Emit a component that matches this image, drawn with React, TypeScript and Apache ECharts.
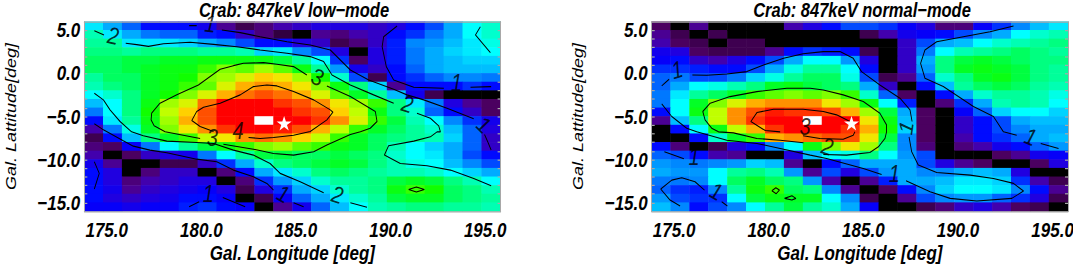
import React, { useEffect, useRef } from "react";
import * as echarts from "echarts";

const lonCats = Array.from({ length: 22 }, (_, i) => String(174.5 + i));
const latCats = Array.from({ length: 22 }, (_, i) => String(-15.5 + i));
const lonTicks = [175, 180, 185, 190, 195];
const latTicks = [-15, -10, -5, 0, 5];
const latMinor = [-15, -14, -13, -12, -11, -10, -9, -8, -7, -6, -5, -4, -3, -2, -1, 0, 1, 2, 3, 4, 5];

const titles = ["Crab: 847keV low\u2212mode", "Crab: 847keV normal\u2212mode"];
const xName = "Gal. Longitude [deg]";
const yName = "Gal. Lattitude[deg]";

// scale code per cell, top row first; 105 = the white peak cell
const lowMode = [
  [48,42,34,26,26,26,22,14,8,12,16,18,20,20,20,18,20,26,32,42,50,54],
  [56,48,42,36,34,34,28,26,18,12,6,0,14,12,16,18,26,30,36,42,50,54],
  [58,58,48,48,48,46,42,38,32,26,26,20,18,8,12,18,28,38,40,44,48,52],
  [60,60,58,60,60,60,58,58,56,46,48,38,32,20,0,20,28,36,42,46,48,50],
  [62,62,64,64,66,66,68,68,68,68,64,58,50,30,10,20,28,36,42,44,46,46],
  [62,62,64,66,68,68,72,76,74,78,74,68,58,40,22,18,26,34,42,44,44,44],
  [58,62,62,66,68,70,76,78,82,86,84,78,70,54,32,8,26,30,34,38,38,36],
  [56,60,62,66,68,72,74,82,88,90,88,84,76,68,60,46,14,26,26,26,30,26],
  [50,54,60,66,70,76,82,88,92,94,92,88,82,74,66,58,44,22,8,0,0,0],
  [44,50,60,68,78,82,92,100,100,100,96,94,90,84,78,72,60,48,36,20,14,10],
  [36,50,60,70,80,86,94,100,100,100,100,96,94,86,80,68,60,54,34,26,18,10],
  [26,48,58,68,78,88,94,100,100,105,100,100,96,90,82,72,64,56,50,38,30,22],
  [16,36,52,66,76,84,90,96,100,100,98,94,88,80,72,66,62,58,54,44,34,20],
  [8,26,44,60,66,72,80,84,90,92,90,86,80,72,66,62,60,58,56,46,34,18],
  [12,10,24,36,50,58,64,68,72,76,78,74,72,68,66,62,56,50,46,42,34,18],
  [16,0,10,18,20,22,36,50,58,64,64,62,62,64,62,60,54,50,48,42,32,26],
  [22,14,0,0,8,8,18,30,42,54,60,62,64,66,64,60,56,52,50,44,38,32],
  [26,20,0,12,18,18,0,12,26,42,48,54,60,62,60,58,56,56,54,50,46,42],
  [26,20,12,16,18,20,20,0,12,30,40,46,54,58,58,60,64,66,64,60,56,50],
  [26,22,14,18,20,22,24,20,8,20,30,42,46,54,58,60,68,72,70,62,60,56],
  [26,20,18,20,22,26,26,24,0,8,24,34,42,48,54,58,64,66,66,62,60,58],
  [24,24,22,24,24,28,30,26,24,0,14,22,34,44,50,56,58,60,60,58,58,56],
];

const normalMode = [
  [10,0,14,0,0,0,0,16,20,26,32,32,30,24,20,12,12,24,30,38,44,48],
  [14,8,0,8,0,0,0,0,0,0,0,8,16,22,24,26,32,38,42,50,54,56],
  [16,10,8,0,8,8,0,0,0,0,0,0,0,18,32,42,44,50,54,56,58,60],
  [22,20,10,8,8,8,14,26,30,28,26,8,0,18,36,50,56,58,60,62,60,58],
  [24,26,18,16,20,26,32,42,50,50,40,20,0,18,42,60,64,66,64,62,60,60],
  [30,30,28,26,26,32,42,52,58,58,50,26,0,18,40,60,66,68,66,64,60,58],
  [34,36,32,32,36,46,52,58,62,62,52,32,8,14,34,54,60,66,68,64,60,58],
  [34,42,50,52,56,60,66,68,64,62,60,42,18,0,26,44,58,62,64,62,58,56],
  [36,48,58,62,66,72,74,76,74,76,72,54,34,10,0,26,42,54,58,58,56,52],
  [36,50,66,76,82,88,90,90,90,84,78,68,50,28,0,12,30,42,56,58,56,50],
  [26,50,68,80,90,94,98,96,96,94,88,78,64,42,10,0,24,34,46,50,50,46],
  [14,44,60,80,90,96,100,100,105,100,100,84,68,44,10,0,18,26,32,42,44,44],
  [0,26,50,68,80,88,96,100,100,100,96,88,70,46,10,0,18,26,32,38,42,42],
  [0,0,26,54,66,72,88,90,92,94,94,84,64,38,10,0,16,26,30,34,42,44],
  [26,12,0,8,20,26,38,50,68,76,84,78,60,38,12,0,12,16,22,26,34,40],
  [34,32,26,16,14,0,0,20,44,50,52,60,50,40,32,0,0,0,10,14,22,24],
  [40,38,36,38,40,46,44,14,0,26,34,42,42,42,32,20,14,10,0,0,10,20],
  [42,40,40,50,58,60,56,40,14,32,20,32,40,42,38,38,42,44,42,20,0,0],
  [36,36,38,50,62,66,62,60,40,16,0,14,28,42,42,44,48,48,46,30,16,8],
  [34,30,28,38,58,68,72,62,60,38,14,0,10,26,38,46,50,50,48,38,26,14],
  [40,32,30,30,50,64,68,66,66,50,38,8,0,14,32,38,40,40,34,30,20,8],
  [44,38,26,32,38,50,58,64,58,54,42,24,0,0,8,12,18,20,16,10,8,0],
];

const scaleColors = [
  "#000000", "#2a0038", "#4b0060", "#4a00a0", "#2000e0", "#0000ff", "#0030ff", "#0070ff", "#0098ff",
  "#00c8ff", "#00ffff", "#00ffc0", "#00ff80", "#00ff30", "#10ff00", "#70ff00", "#c0ff00", "#ffe000",
  "#ff9000", "#ff4000", "#ff0000", "#ffffff",
];

// contours in [lon, lat]
const lowContours: number[][][] = [
  [[174.53,4.96],[175.04,4.46]],
  [[176.19,3.49],[176.77,3.34],[177.39,3.14],[178.18,3.45],[179.59,3.61],[180.83,3.37],[182.06,3.10],[183.29,2.72],[184.71,2.33],[185.94,1.95],[186.65,1.37],[187.09,-0.18],[188.06,-1.34],[189.29,-2.49],[190.35,-3.46]],
  [[191.58,-4.62],[192.29,-5.20],[192.73,-6.08],[192.82,-6.78],[192.64,-6.78],[192.29,-7.36],[191.41,-7.86],[190.08,-8.40],[189.86,-9.48],[190.70,-10.45],[192.11,-10.72],[193.35,-11.22],[194.58,-12.19],[195.50,-13.03]],
  [[179.54,5.54],[179.94,5.54]],
  [[181.27,5.03],[182.24,4.73],[183.29,4.26],[184.71,3.68],[185.94,3.30],[187.0,2.72],[187.53,1.56],[188.06,0.40],[189.03,-0.76],[190.35,-1.84],[191.05,-2.49],[191.94,-3.07],[193.17,-4.04],[194.58,-5.27]],
  [[195.15,-7.09],[195.32,-7.94],[195.50,-8.90]],
  [[185.76,-0.18],[185.06,0.79],[184.18,1.06],[183.47,1.25],[182.41,1.17],[181.88,0.90],[181.18,0.48],[180.03,-1.34],[178.89,-2.49],[178.0,-3.46],[177.56,-4.62],[177.53,-5.39],[177.69,-6.08],[178.27,-6.78],[180.12,-7.55]],
  [[186.82,-1.45],[188.06,-2.69],[189.38,-4.42],[189.47,-5.58],[189.11,-6.36],[188.59,-6.78],[188.06,-7.09],[186.82,-8.32],[186.12,-9.10],[185.06,-9.48],[184.0,-9.29],[182.94,-8.79],[181.35,-8.21]],
  [[180.83,-6.74],[180.12,-6.16],[179.68,-5.47],[179.94,-4.42],[180.30,-3.92],[181.18,-3.46],[182.24,-2.49],[182.94,-1.53],[183.65,-1.34],[184.18,-1.45],[185.06,-2.11],[186.12,-3.07],[187.0,-4.23],[187.14,-4.50],[186.82,-5.39],[185.94,-6.74],[185.06,-7.17],[184.0,-7.44],[183.29,-7.55],[182.68,-7.44]],
  [[174.53,-2.30],[175.01,-3.07],[175.36,-4.23],[175.89,-5.58],[176.50,-6.78],[177.12,-7.24],[178.36,-7.86],[179.94,-8.02],[180.83,-8.13],[181.88,-8.90],[182.94,-9.48],[183.82,-10.45],[184.35,-11.6],[185.41,-12.57],[186.65,-13.85]],
  [[188.06,-15.0],[188.94,-15.54]],
  [[174.53,-5.85],[175.01,-6.55],[176.06,-7.82],[176.59,-8.44],[177.47,-8.90],[178.36,-9.21],[179.94,-9.95],[181.0,-10.25],[181.88,-11.22],[182.94,-12.0],[183.65,-12.76],[184.0,-13.54]],
  [[185.06,-15.0],[185.59,-15.47]],
  [[174.53,-10.25],[174.79,-11.6],[174.53,-13.42]],
  [[179.54,-15.47],[180.07,-14.89]],
  [[181.32,-14.39],[182.5,-15.47]],
  [[191.14,-13.46],[191.55,-13.19],[191.97,-13.46],[191.55,-13.77],[191.14,-13.46]],
  [[190.53,5.50],[189.82,4.26],[189.74,3.10],[189.96,0.79],[190.35,-0.76],[191.41,-1.61],[193.0,-1.72]],
  [[194.41,-1.61],[195.50,-1.53]],
  [[194.93,5.42],[194.67,4.46],[195.46,2.41]],
];

const normalContours: number[][][] = [
  [[176.15,-0.18],[176.91,-0.22],[177.97,-0.06],[179.03,0.21],[179.91,0.98],[180.97,1.75],[182.0,2.29],[183.07,2.53],[183.95,2.53],[184.65,1.75],[185.09,0.21],[186.06,-1.34],[187.12,-2.88],[187.65,-4.23],[187.76,-5.58]],
  [[187.60,-7.36],[187.74,-9.10],[188.09,-10.64],[189.06,-11.49],[190.83,-11.80],[192.06,-12.19],[193.12,-12.76],[193.65,-13.65],[193.03,-14.5],[191.18,-14.81],[189.77,-14.5],[188.71,-13.73],[187.44,-12.46]],
  [[174.53,-1.45],[174.92,-0.68]],
  [[174.53,-3.54],[175.06,-5.0],[175.85,-6.36],[176.38,-6.78],[177.97,-7.75],[179.56,-8.13],[180.79,-8.71],[182.38,-9.48],[183.24,-9.87],[185.18,-11.03],[186.15,-11.73]],
  [[182.02,-8.05],[180.79,-7.75],[179.56,-7.55],[178.32,-6.90],[177.53,-6.78],[177.17,-6.36],[176.82,-5.39],[176.70,-4.42],[177.09,-3.46],[178.14,-2.69],[179.56,-2.11],[181.14,-1.72],[182.38,-1.72],[183.07,-1.92],[184.12,-2.49],[185.18,-3.27],[186.06,-4.62],[186.41,-5.97],[186.41,-6.78],[186.33,-7.55],[185.98,-8.52],[185.53,-9.17],[184.30,-9.48],[183.07,-9.41]],
  [[182.0,-7.24],[182.89,-7.55],[184.12,-7.63],[184.65,-7.17],[184.74,-6.78]],
  [[184.48,-5.58],[183.77,-4.81],[183.07,-4.42],[182.0,-4.15],[180.44,-4.15],[179.56,-4.54],[179.24,-5.58],[180.0,-6.63],[180.79,-6.78]],
  [[176.79,-13.54],[176.29,-12.57],[175.59,-12.11],[175.06,-12.38],[174.48,-13.42],[174.97,-14.69],[175.5,-15.39]],
  [[177.70,-14.89],[178.0,-15.39]],
  [[180.35,-13.61],[180.56,-13.27],[180.75,-13.54],[180.58,-13.96],[180.35,-13.61]],
  [[181.02,-14.5],[181.41,-14.19],[181.62,-14.5],[181.41,-14.69],[181.02,-14.5]],
  [[193.12,5.50],[191.88,4.84],[190.47,4.26],[189.06,3.68],[188.44,2.72],[188.21,1.17],[188.44,-0.56],[189.41,-1.53],[191.0,-3.85],[192.06,-5.0],[192.59,-6.78],[193.29,-7.17]],
  [[194.56,-8.13],[195.5,-8.71]],
  [[174.67,-9.1],[175.7,-9.9]],
];

// [lon, lat, label, rotation]
const lowLabels: [number, number, string, number][] = [
  [180.65,5.73,"1",-5],[175.52,4.34,"2",-10],[186.31,-0.42,"3",-20],[191.07,-3.55,"2",-15],
  [193.67,-1.1,"1",0],[195.1,-5.96,"1",-40],[180.76,-7.49,"3",0],[182.13,-6.68,"4",0],
  [180.55,-13.99,"1",0],[184.51,-13.99,"1",-25],[187.37,-14.1,"2",-15],
];
const normalLabels: [number, number, string, number][] = [
  [175.34,0.4,"1",15],[182.11,-6.2,"3",0],[183.28,-8.5,"2",-15],[187.46,-6.3,"1",80],
  [186.82,-11.67,"1",0],[194.02,-7.37,"1",-20],[176.24,-9.67,"1",0],[177.4,-13.7,"1",-25],
];

const crab = [184.56, -5.78];

const K = 1.2; // the reference's lettering is stretched upright; the whole chart is drawn this much taller
const font = "'Liberation Sans', sans-serif";
const axisText = { fontFamily: font, fontSize: 17, fontStyle: "italic" as const, fontWeight: "bold" as const, color: "#000" };

function fmt(v: number) {
  return v < 0 ? "\u2212" + Math.abs(v).toFixed(1) : v.toFixed(1);
}

function cells(rows: number[][]) {
  const out: number[][] = [];
  rows.forEach((row, r) => row.forEach((v, c) => out.push([c, 21 - r, v])));
  return out;
}

const GRIDS = [84.3, 651.7];

export default function App() {
  const ref = useRef<HTMLDivElement>(null);
  useEffect(() => {
    const chart = echarts.init(ref.current!, undefined, { renderer: "svg" });
    const grid = GRIDS.map((left) => ({ left, top: 21.7 / K, width: 416.3, height: 189.6 / K, show: false, outerBoundsMode: "none" }));
    const xAxis: any[] = [];
    const yAxis: any[] = [];
    const series: any[] = [];
    [0, 1].forEach((g) => {
      const base = xAxis.length;
      const lineGray = { show: true, onZero: false, lineStyle: { color: "#a8a8a8", width: 1 } };
      xAxis.push(
        { type: "category", gridIndex: g, data: lonCats, show: false },
        {
          type: "value", gridIndex: g, min: 174, max: 196, position: "bottom", z: 5,
          axisLine: lineGray, axisTick: { show: false }, splitLine: { show: false },
          axisLabel: { ...axisText, customValues: lonTicks, formatter: fmt, margin: 7, padding: [0, 0, 0, 7] },
          name: xName, nameLocation: "middle", nameGap: 26, nameMoveOverlap: false, nameTextStyle: { ...axisText },
        },
        {
          type: "value", gridIndex: g, min: 174, max: 196, position: "top", z: 5,
          axisLine: lineGray, axisTick: { show: false }, axisLabel: { show: false }, splitLine: { show: false },
        }
      );
      yAxis.push(
        { type: "category", gridIndex: g, data: latCats, show: false },
        {
          type: "value", gridIndex: g, min: -16, max: 6, position: "left", z: 5,
          axisLine: lineGray, axisTick: { show: true, inside: true, length: 3, customValues: latMinor, lineStyle: { color: "#a8a8a8" } }, splitLine: { show: false },
          axisLabel: { ...axisText, customValues: latTicks, formatter: fmt, margin: 4 },
          name: yName, nameLocation: "middle", nameGap: 66, nameMoveOverlap: false, nameTextStyle: { ...axisText, fontSize: 15, fontWeight: "normal" },
        },
        {
          type: "value", gridIndex: g, min: -16, max: 6, position: "right", z: 5,
          axisLine: lineGray, axisTick: { show: true, inside: true, length: 3, customValues: latMinor, lineStyle: { color: "#a8a8a8" } },
          axisLabel: { show: false }, splitLine: { show: false },
        }
      );
      const catX = base;
      const valX = base + 1;
      series.push({
        type: "heatmap", xAxisIndex: catX, yAxisIndex: catX, data: cells(g === 0 ? lowMode : normalMode),
        itemStyle: { borderWidth: 0 }, z: 1, silent: true,
      });
      (g === 0 ? lowContours : normalContours).forEach((c) =>
        series.push({
          type: "line", xAxisIndex: valX, yAxisIndex: valX, data: c, showSymbol: false, symbol: "none",
          lineStyle: { color: "#000", width: 0.9 }, z: 3, silent: true,
        })
      );
      series.push({
        type: "scatter", xAxisIndex: valX, yAxisIndex: valX, symbolSize: 0, z: 4, silent: true,
        data: (g === 0 ? lowLabels : normalLabels).map((l) => ({
          value: [l[0], l[1]],
          label: {
            show: true, position: "inside", formatter: l[2], rotate: l[3],
            fontFamily: font, fontStyle: "italic", fontSize: 20, color: "#000",
          },
        })),
      });
      series.push({
        type: "scatter", xAxisIndex: valX, yAxisIndex: valX, symbol: "path://M50 0 L62 36 L100 36 L69 59 L81 95 L50 73 L19 95 L31 59 L0 36 L38 36 Z",
        symbolSize: [15, 12], data: [crab], itemStyle: { color: "#fff", opacity: 1 }, z: 4, silent: true,
      });
    });
    chart.setOption({
      animation: false,
      backgroundColor: "#fff",
      title: [
        { text: titles[0], left: 289, top: -5, textAlign: "center", textStyle: { ...axisText, fontSize: 16.5 } },
        { text: titles[1], left: 857, top: -5, textAlign: "center", textStyle: { ...axisText, fontSize: 16.5 } },
      ],
      grid, xAxis, yAxis, series,
      visualMap: {
        show: false, type: "continuous", min: 0, max: 105, dimension: 2,
        seriesIndex: series.map((s, i) => (s.type === "heatmap" ? i : -1)).filter((i) => i >= 0),
        inRange: { color: scaleColors },
      },
    });
    return () => chart.dispose();
  }, []);
  return (
    <div
      ref={ref}
      style={{ position: "fixed", left: 0, top: 0, width: 1073, height: 264 / K, transform: `scaleY(${K})`, transformOrigin: "0 0" }}
    />
  );
}
